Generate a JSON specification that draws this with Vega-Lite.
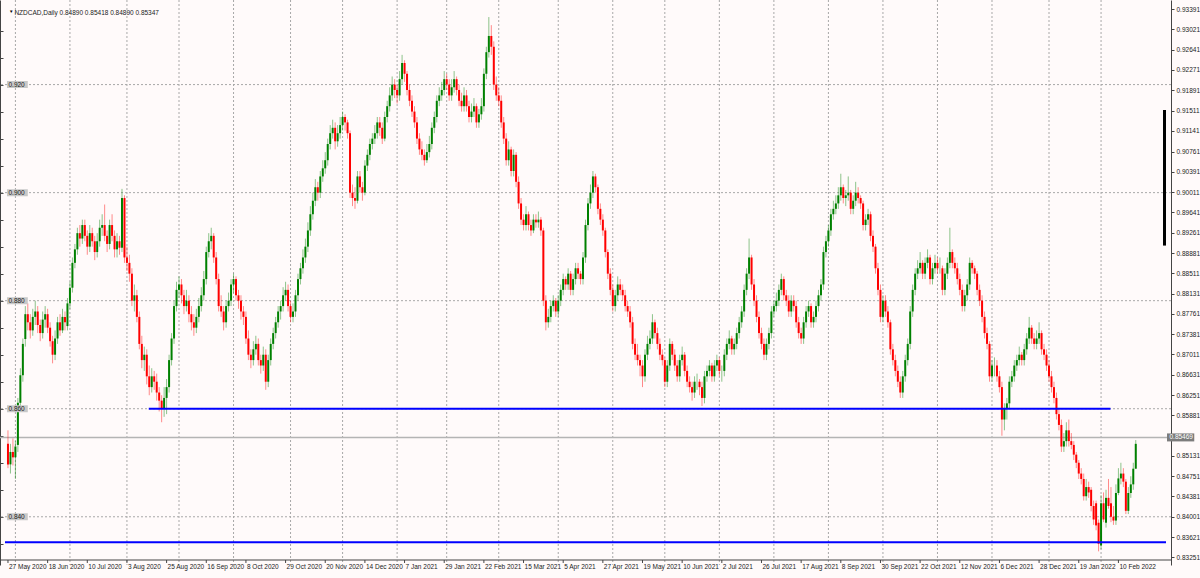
{
"$schema":"https://vega.github.io/schema/vega-lite/v6.json",
"width":1171,"height":565,"autosize":"none",
"padding":{"left":0,"top":0,"right":29,"bottom":13},
"background":"#fffafa",
"config":{"view":{"stroke":null},"axis":{"labelFont":"Liberation Sans","labelFontSize":6.5,"labelColor":"#1a1a1a","domainColor":"#555555","tickColor":"#555555","grid":false,"title":null},"text":{"font":"Liberation Sans"}},
"resolve":{"axis":{"y":"independent"}},
"datasets":{
"vgrid":[{"m":3},{"m":25},{"m":48},{"m":69},{"m":91},{"m":114},{"m":135},{"m":157},{"m":177},{"m":198},{"m":222},{"m":244},{"m":265},{"m":287},{"m":309},{"m":331},{"m":353},{"m":375},{"m":397},{"m":420},{"m":441}],
"dates":[{"i":0,"t":"27 May 2020"},{"i":16,"t":"18 Jun 2020"},{"i":32,"t":"10 Jul 2020"},{"i":48,"t":"3 Aug 2020"},{"i":64,"t":"25 Aug 2020"},{"i":80,"t":"16 Sep 2020"},{"i":96,"t":"8 Oct 2020"},{"i":112,"t":"29 Oct 2020"},{"i":128,"t":"20 Nov 2020"},{"i":144,"t":"14 Dec 2020"},{"i":160,"t":"7 Jan 2021"},{"i":176,"t":"29 Jan 2021"},{"i":192,"t":"22 Feb 2021"},{"i":208,"t":"15 Mar 2021"},{"i":224,"t":"5 Apr 2021"},{"i":240,"t":"27 Apr 2021"},{"i":256,"t":"19 May 2021"},{"i":272,"t":"10 Jun 2021"},{"i":288,"t":"2 Jul 2021"},{"i":304,"t":"26 Jul 2021"},{"i":320,"t":"17 Aug 2021"},{"i":336,"t":"8 Sep 2021"},{"i":352,"t":"30 Sep 2021"},{"i":368,"t":"22 Oct 2021"},{"i":384,"t":"12 Nov 2021"},{"i":400,"t":"6 Dec 2021"},{"i":416,"t":"28 Dec 2021"},{"i":432,"t":"19 Jan 2022"},{"i":448,"t":"10 Feb 2022"}],
"hgrid":[{"p":0.84,"t":"0.840"},{"p":0.86,"t":"0.860"},{"p":0.88,"t":"0.880"},{"p":0.9,"t":"0.900"},{"p":0.92,"t":"0.920"}],
"levels":[{"p":0.86,"a":56.8,"b":444.8},{"p":0.8353,"a":-1.2,"b":467.2}],
"candles":[
{"i":0,"o":0.8535,"h":0.8560,"l":0.8490,"c":0.8497},
{"i":1,"o":0.8497,"h":0.8535,"l":0.8480,"c":0.8520},
{"i":2,"o":0.8520,"h":0.8545,"l":0.8495,"c":0.8510},
{"i":3,"o":0.8510,"h":0.8540,"l":0.8470,"c":0.8530},
{"i":4,"o":0.8533,"h":0.8620,"l":0.8520,"c":0.8611},
{"i":5,"o":0.8611,"h":0.8675,"l":0.8600,"c":0.8662},
{"i":6,"o":0.8662,"h":0.8730,"l":0.8650,"c":0.8720},
{"i":7,"o":0.8729,"h":0.8790,"l":0.8715,"c":0.8775},
{"i":8,"o":0.8775,"h":0.8795,"l":0.8745,"c":0.8760},
{"i":9,"o":0.8760,"h":0.8775,"l":0.8730,"c":0.8745},
{"i":10,"o":0.8745,"h":0.8785,"l":0.8735,"c":0.8770},
{"i":11,"o":0.8770,"h":0.8800,"l":0.8755,"c":0.8780},
{"i":12,"o":0.8780,"h":0.8790,"l":0.8740,"c":0.8755},
{"i":13,"o":0.8755,"h":0.8765,"l":0.8725,"c":0.8740},
{"i":14,"o":0.8740,"h":0.8780,"l":0.8730,"c":0.8765},
{"i":15,"o":0.8765,"h":0.8790,"l":0.8750,"c":0.8775},
{"i":16,"o":0.8775,"h":0.8785,"l":0.8740,"c":0.8750},
{"i":17,"o":0.8750,"h":0.8760,"l":0.8715,"c":0.8725},
{"i":18,"o":0.8725,"h":0.8735,"l":0.8684,"c":0.8700},
{"i":19,"o":0.8700,"h":0.8745,"l":0.8690,"c":0.8730},
{"i":20,"o":0.8730,"h":0.8770,"l":0.8720,"c":0.8760},
{"i":21,"o":0.8760,"h":0.8775,"l":0.8735,"c":0.8745},
{"i":22,"o":0.8745,"h":0.8785,"l":0.8740,"c":0.8770},
{"i":23,"o":0.8770,"h":0.8780,"l":0.8745,"c":0.8760},
{"i":24,"o":0.8753,"h":0.8805,"l":0.8745,"c":0.8795},
{"i":25,"o":0.8795,"h":0.8835,"l":0.8785,"c":0.8824},
{"i":26,"o":0.8824,"h":0.8880,"l":0.8815,"c":0.8870},
{"i":27,"o":0.8870,"h":0.8905,"l":0.8860,"c":0.8895},
{"i":28,"o":0.8895,"h":0.8935,"l":0.8885,"c":0.8925},
{"i":29,"o":0.8925,"h":0.8940,"l":0.8900,"c":0.8915},
{"i":30,"o":0.8915,"h":0.8950,"l":0.8905,"c":0.8940},
{"i":31,"o":0.8940,"h":0.8950,"l":0.8910,"c":0.8920},
{"i":32,"o":0.8920,"h":0.8930,"l":0.8885,"c":0.8900},
{"i":33,"o":0.8900,"h":0.8940,"l":0.8890,"c":0.8925},
{"i":34,"o":0.8925,"h":0.8935,"l":0.8900,"c":0.8910},
{"i":35,"o":0.8910,"h":0.8920,"l":0.8875,"c":0.8890},
{"i":36,"o":0.8890,"h":0.8925,"l":0.8880,"c":0.8910},
{"i":37,"o":0.8910,"h":0.8950,"l":0.8900,"c":0.8935},
{"i":38,"o":0.8935,"h":0.8960,"l":0.8920,"c":0.8940},
{"i":39,"o":0.8940,"h":0.8978,"l":0.8910,"c":0.8920},
{"i":40,"o":0.8920,"h":0.8930,"l":0.8890,"c":0.8905},
{"i":41,"o":0.8905,"h":0.8950,"l":0.8895,"c":0.8940},
{"i":42,"o":0.8940,"h":0.8960,"l":0.8910,"c":0.8920},
{"i":43,"o":0.8920,"h":0.8930,"l":0.8880,"c":0.8895},
{"i":44,"o":0.8895,"h":0.8925,"l":0.8880,"c":0.8910},
{"i":45,"o":0.8910,"h":0.8920,"l":0.8885,"c":0.8898},
{"i":46,"o":0.8898,"h":0.9007,"l":0.8890,"c":0.8990},
{"i":47,"o":0.8990,"h":0.8995,"l":0.8870,"c":0.8880},
{"i":48,"o":0.8880,"h":0.8900,"l":0.8855,"c":0.8870},
{"i":49,"o":0.8870,"h":0.8885,"l":0.8835,"c":0.8850},
{"i":50,"o":0.8850,"h":0.8860,"l":0.8790,"c":0.8800},
{"i":51,"o":0.8800,"h":0.8830,"l":0.8780,"c":0.8810},
{"i":52,"o":0.8810,"h":0.8820,"l":0.8760,"c":0.8770},
{"i":53,"o":0.8770,"h":0.8780,"l":0.8710,"c":0.8720},
{"i":54,"o":0.8720,"h":0.8735,"l":0.8675,"c":0.8690},
{"i":55,"o":0.8690,"h":0.8715,"l":0.8670,"c":0.8700},
{"i":56,"o":0.8700,"h":0.8710,"l":0.8645,"c":0.8660},
{"i":57,"o":0.8660,"h":0.8680,"l":0.8625,"c":0.8640},
{"i":58,"o":0.8640,"h":0.8675,"l":0.8630,"c":0.8660},
{"i":59,"o":0.8660,"h":0.8670,"l":0.8635,"c":0.8650},
{"i":60,"o":0.8650,"h":0.8665,"l":0.8615,"c":0.8630},
{"i":61,"o":0.8630,"h":0.8640,"l":0.8595,"c":0.8615},
{"i":62,"o":0.8615,"h":0.8625,"l":0.8575,"c":0.8600},
{"i":63,"o":0.8600,"h":0.8640,"l":0.8585,"c":0.8620},
{"i":64,"o":0.8620,"h":0.8655,"l":0.8590,"c":0.8640},
{"i":65,"o":0.8640,"h":0.8700,"l":0.8630,"c":0.8690},
{"i":66,"o":0.8690,"h":0.8740,"l":0.8680,"c":0.8730},
{"i":67,"o":0.8730,"h":0.8800,"l":0.8720,"c":0.8790},
{"i":68,"o":0.8790,"h":0.8835,"l":0.8780,"c":0.8820},
{"i":69,"o":0.8820,"h":0.8845,"l":0.8805,"c":0.8830},
{"i":70,"o":0.8830,"h":0.8840,"l":0.8795,"c":0.8810},
{"i":71,"o":0.8810,"h":0.8820,"l":0.8775,"c":0.8790},
{"i":72,"o":0.8790,"h":0.8820,"l":0.8780,"c":0.8800},
{"i":73,"o":0.8800,"h":0.8810,"l":0.8760,"c":0.8775},
{"i":74,"o":0.8775,"h":0.8790,"l":0.8745,"c":0.8760},
{"i":75,"o":0.8760,"h":0.8775,"l":0.8735,"c":0.8750},
{"i":76,"o":0.8750,"h":0.8785,"l":0.8740,"c":0.8770},
{"i":77,"o":0.8770,"h":0.8805,"l":0.8760,"c":0.8790},
{"i":78,"o":0.8790,"h":0.8825,"l":0.8780,"c":0.8810},
{"i":79,"o":0.8810,"h":0.8855,"l":0.8800,"c":0.8840},
{"i":80,"o":0.8840,"h":0.8900,"l":0.8830,"c":0.8890},
{"i":81,"o":0.8890,"h":0.8925,"l":0.8880,"c":0.8910},
{"i":82,"o":0.8910,"h":0.8935,"l":0.8895,"c":0.8920},
{"i":83,"o":0.8920,"h":0.8925,"l":0.8870,"c":0.8880},
{"i":84,"o":0.8880,"h":0.8890,"l":0.8830,"c":0.8840},
{"i":85,"o":0.8840,"h":0.8850,"l":0.8780,"c":0.8790},
{"i":86,"o":0.8790,"h":0.8810,"l":0.8770,"c":0.8780},
{"i":87,"o":0.8780,"h":0.8790,"l":0.8745,"c":0.8760},
{"i":88,"o":0.8760,"h":0.8800,"l":0.8750,"c":0.8790},
{"i":89,"o":0.8790,"h":0.8815,"l":0.8780,"c":0.8800},
{"i":90,"o":0.8800,"h":0.8840,"l":0.8790,"c":0.8830},
{"i":91,"o":0.8830,"h":0.8850,"l":0.8815,"c":0.8840},
{"i":92,"o":0.8840,"h":0.8845,"l":0.8800,"c":0.8810},
{"i":93,"o":0.8810,"h":0.8820,"l":0.8785,"c":0.8800},
{"i":94,"o":0.8800,"h":0.8810,"l":0.8765,"c":0.8780},
{"i":95,"o":0.8780,"h":0.8790,"l":0.8755,"c":0.8770},
{"i":96,"o":0.8770,"h":0.8780,"l":0.8720,"c":0.8730},
{"i":97,"o":0.8730,"h":0.8745,"l":0.8690,"c":0.8700},
{"i":98,"o":0.8700,"h":0.8710,"l":0.8675,"c":0.8690},
{"i":99,"o":0.8690,"h":0.8725,"l":0.8680,"c":0.8710},
{"i":100,"o":0.8710,"h":0.8735,"l":0.8700,"c":0.8720},
{"i":101,"o":0.8720,"h":0.8730,"l":0.8680,"c":0.8690},
{"i":102,"o":0.8690,"h":0.8700,"l":0.8665,"c":0.8680},
{"i":103,"o":0.8680,"h":0.8715,"l":0.8670,"c":0.8700},
{"i":104,"o":0.8700,"h":0.8710,"l":0.8635,"c":0.8650},
{"i":105,"o":0.8650,"h":0.8700,"l":0.8640,"c":0.8690},
{"i":106,"o":0.8690,"h":0.8730,"l":0.8680,"c":0.8720},
{"i":107,"o":0.8720,"h":0.8750,"l":0.8710,"c":0.8740},
{"i":108,"o":0.8740,"h":0.8770,"l":0.8730,"c":0.8760},
{"i":109,"o":0.8760,"h":0.8790,"l":0.8750,"c":0.8780},
{"i":110,"o":0.8780,"h":0.8800,"l":0.8765,"c":0.8790},
{"i":111,"o":0.8790,"h":0.8825,"l":0.8780,"c":0.8810},
{"i":112,"o":0.8810,"h":0.8835,"l":0.8800,"c":0.8820},
{"i":113,"o":0.8820,"h":0.8830,"l":0.8780,"c":0.8790},
{"i":114,"o":0.8790,"h":0.8800,"l":0.8760,"c":0.8770},
{"i":115,"o":0.8770,"h":0.8795,"l":0.8760,"c":0.8780},
{"i":116,"o":0.8780,"h":0.8820,"l":0.8770,"c":0.8810},
{"i":117,"o":0.8810,"h":0.8850,"l":0.8800,"c":0.8840},
{"i":118,"o":0.8840,"h":0.8870,"l":0.8830,"c":0.8860},
{"i":119,"o":0.8860,"h":0.8895,"l":0.8850,"c":0.8880},
{"i":120,"o":0.8880,"h":0.8915,"l":0.8870,"c":0.8900},
{"i":121,"o":0.8900,"h":0.8945,"l":0.8890,"c":0.8930},
{"i":122,"o":0.8930,"h":0.8975,"l":0.8920,"c":0.8960},
{"i":123,"o":0.8960,"h":0.9000,"l":0.8950,"c":0.8985},
{"i":124,"o":0.8985,"h":0.9025,"l":0.8975,"c":0.9010},
{"i":125,"o":0.9010,"h":0.9020,"l":0.8985,"c":0.9000},
{"i":126,"o":0.9000,"h":0.9040,"l":0.8990,"c":0.9030},
{"i":127,"o":0.9030,"h":0.9060,"l":0.9020,"c":0.9045},
{"i":128,"o":0.9045,"h":0.9075,"l":0.9035,"c":0.9060},
{"i":129,"o":0.9060,"h":0.9100,"l":0.9050,"c":0.9090},
{"i":130,"o":0.9090,"h":0.9125,"l":0.9080,"c":0.9110},
{"i":131,"o":0.9110,"h":0.9135,"l":0.9100,"c":0.9120},
{"i":132,"o":0.9120,"h":0.9130,"l":0.9080,"c":0.9095},
{"i":133,"o":0.9095,"h":0.9125,"l":0.9085,"c":0.9110},
{"i":134,"o":0.9110,"h":0.9140,"l":0.9100,"c":0.9125},
{"i":135,"o":0.9125,"h":0.9150,"l":0.9115,"c":0.9140},
{"i":136,"o":0.9140,"h":0.9145,"l":0.9115,"c":0.9130},
{"i":137,"o":0.9130,"h":0.9135,"l":0.9100,"c":0.9110},
{"i":138,"o":0.9110,"h":0.9115,"l":0.8990,"c":0.9000},
{"i":139,"o":0.9000,"h":0.9015,"l":0.8975,"c":0.8990},
{"i":140,"o":0.8990,"h":0.9010,"l":0.8970,"c":0.8985},
{"i":141,"o":0.8985,"h":0.9040,"l":0.8980,"c":0.9030},
{"i":142,"o":0.9030,"h":0.9040,"l":0.9000,"c":0.9010},
{"i":143,"o":0.9010,"h":0.9020,"l":0.8985,"c":0.9000},
{"i":144,"o":0.9000,"h":0.9060,"l":0.8995,"c":0.9050},
{"i":145,"o":0.9050,"h":0.9080,"l":0.9040,"c":0.9070},
{"i":146,"o":0.9070,"h":0.9100,"l":0.9060,"c":0.9090},
{"i":147,"o":0.9090,"h":0.9110,"l":0.9080,"c":0.9100},
{"i":148,"o":0.9100,"h":0.9125,"l":0.9090,"c":0.9110},
{"i":149,"o":0.9110,"h":0.9140,"l":0.9100,"c":0.9130},
{"i":150,"o":0.9130,"h":0.9140,"l":0.9105,"c":0.9120},
{"i":151,"o":0.9120,"h":0.9130,"l":0.9090,"c":0.9100},
{"i":152,"o":0.9100,"h":0.9150,"l":0.9095,"c":0.9140},
{"i":153,"o":0.9140,"h":0.9170,"l":0.9130,"c":0.9160},
{"i":154,"o":0.9160,"h":0.9195,"l":0.9150,"c":0.9180},
{"i":155,"o":0.9180,"h":0.9215,"l":0.9170,"c":0.9200},
{"i":156,"o":0.9200,"h":0.9210,"l":0.9175,"c":0.9190},
{"i":157,"o":0.9190,"h":0.9200,"l":0.9165,"c":0.9180},
{"i":158,"o":0.9180,"h":0.9225,"l":0.9170,"c":0.9210},
{"i":159,"o":0.9210,"h":0.9255,"l":0.9200,"c":0.9240},
{"i":160,"o":0.9240,"h":0.9245,"l":0.9205,"c":0.9220},
{"i":161,"o":0.9220,"h":0.9225,"l":0.9180,"c":0.9190},
{"i":162,"o":0.9190,"h":0.9200,"l":0.9160,"c":0.9170},
{"i":163,"o":0.9170,"h":0.9180,"l":0.9140,"c":0.9150},
{"i":164,"o":0.9150,"h":0.9160,"l":0.9120,"c":0.9130},
{"i":165,"o":0.9130,"h":0.9140,"l":0.9090,"c":0.9100},
{"i":166,"o":0.9100,"h":0.9110,"l":0.9070,"c":0.9080},
{"i":167,"o":0.9080,"h":0.9095,"l":0.9060,"c":0.9070},
{"i":168,"o":0.9070,"h":0.9080,"l":0.9050,"c":0.9060},
{"i":169,"o":0.9060,"h":0.9090,"l":0.9055,"c":0.9075},
{"i":170,"o":0.9075,"h":0.9105,"l":0.9065,"c":0.9090},
{"i":171,"o":0.9090,"h":0.9130,"l":0.9080,"c":0.9120},
{"i":172,"o":0.9120,"h":0.9150,"l":0.9110,"c":0.9140},
{"i":173,"o":0.9140,"h":0.9180,"l":0.9130,"c":0.9170},
{"i":174,"o":0.9170,"h":0.9195,"l":0.9160,"c":0.9180},
{"i":175,"o":0.9180,"h":0.9205,"l":0.9170,"c":0.9190},
{"i":176,"o":0.9190,"h":0.9225,"l":0.9180,"c":0.9210},
{"i":177,"o":0.9210,"h":0.9220,"l":0.9190,"c":0.9200},
{"i":178,"o":0.9200,"h":0.9210,"l":0.9170,"c":0.9180},
{"i":179,"o":0.9180,"h":0.9210,"l":0.9170,"c":0.9195},
{"i":180,"o":0.9195,"h":0.9225,"l":0.9185,"c":0.9210},
{"i":181,"o":0.9210,"h":0.9215,"l":0.9180,"c":0.9190},
{"i":182,"o":0.9190,"h":0.9200,"l":0.9160,"c":0.9170},
{"i":183,"o":0.9170,"h":0.9185,"l":0.9150,"c":0.9160},
{"i":184,"o":0.9160,"h":0.9195,"l":0.9150,"c":0.9180},
{"i":185,"o":0.9180,"h":0.9190,"l":0.9150,"c":0.9160},
{"i":186,"o":0.9160,"h":0.9170,"l":0.9130,"c":0.9140},
{"i":187,"o":0.9140,"h":0.9165,"l":0.9130,"c":0.9150},
{"i":188,"o":0.9150,"h":0.9175,"l":0.9140,"c":0.9160},
{"i":189,"o":0.9160,"h":0.9165,"l":0.9120,"c":0.9130},
{"i":190,"o":0.9130,"h":0.9155,"l":0.9120,"c":0.9145},
{"i":191,"o":0.9145,"h":0.9175,"l":0.9135,"c":0.9160},
{"i":192,"o":0.9160,"h":0.9230,"l":0.9150,"c":0.9220},
{"i":193,"o":0.9220,"h":0.9270,"l":0.9210,"c":0.9260},
{"i":194,"o":0.9260,"h":0.9325,"l":0.9250,"c":0.9290},
{"i":195,"o":0.9290,"h":0.9310,"l":0.9255,"c":0.9270},
{"i":196,"o":0.9270,"h":0.9280,"l":0.9190,"c":0.9200},
{"i":197,"o":0.9200,"h":0.9215,"l":0.9170,"c":0.9180},
{"i":198,"o":0.9180,"h":0.9195,"l":0.9160,"c":0.9170},
{"i":199,"o":0.9170,"h":0.9180,"l":0.9120,"c":0.9130},
{"i":200,"o":0.9130,"h":0.9140,"l":0.9090,"c":0.9100},
{"i":201,"o":0.9100,"h":0.9110,"l":0.9050,"c":0.9060},
{"i":202,"o":0.9060,"h":0.9095,"l":0.9050,"c":0.9080},
{"i":203,"o":0.9080,"h":0.9085,"l":0.9030,"c":0.9040},
{"i":204,"o":0.9040,"h":0.9080,"l":0.9030,"c":0.9070},
{"i":205,"o":0.9070,"h":0.9075,"l":0.9010,"c":0.9020},
{"i":206,"o":0.9020,"h":0.9030,"l":0.8970,"c":0.8980},
{"i":207,"o":0.8980,"h":0.8990,"l":0.8940,"c":0.8950},
{"i":208,"o":0.8950,"h":0.8960,"l":0.8930,"c":0.8940},
{"i":209,"o":0.8940,"h":0.8975,"l":0.8930,"c":0.8960},
{"i":210,"o":0.8960,"h":0.8965,"l":0.8930,"c":0.8940},
{"i":211,"o":0.8940,"h":0.8950,"l":0.8920,"c":0.8930},
{"i":212,"o":0.8930,"h":0.8960,"l":0.8925,"c":0.8950},
{"i":213,"o":0.8950,"h":0.8960,"l":0.8935,"c":0.8945},
{"i":214,"o":0.8945,"h":0.8965,"l":0.8935,"c":0.8950},
{"i":215,"o":0.8950,"h":0.8955,"l":0.8920,"c":0.8930},
{"i":216,"o":0.8930,"h":0.8935,"l":0.8790,"c":0.8800},
{"i":217,"o":0.8800,"h":0.8810,"l":0.8745,"c":0.8760},
{"i":218,"o":0.8760,"h":0.8785,"l":0.8750,"c":0.8770},
{"i":219,"o":0.8770,"h":0.8800,"l":0.8760,"c":0.8790},
{"i":220,"o":0.8790,"h":0.8810,"l":0.8780,"c":0.8800},
{"i":221,"o":0.8800,"h":0.8805,"l":0.8770,"c":0.8780},
{"i":222,"o":0.8780,"h":0.8810,"l":0.8770,"c":0.8800},
{"i":223,"o":0.8800,"h":0.8830,"l":0.8790,"c":0.8820},
{"i":224,"o":0.8820,"h":0.8850,"l":0.8810,"c":0.8840},
{"i":225,"o":0.8840,"h":0.8845,"l":0.8820,"c":0.8830},
{"i":226,"o":0.8830,"h":0.8860,"l":0.8820,"c":0.8850},
{"i":227,"o":0.8850,"h":0.8855,"l":0.8810,"c":0.8820},
{"i":228,"o":0.8820,"h":0.8850,"l":0.8810,"c":0.8840},
{"i":229,"o":0.8840,"h":0.8870,"l":0.8830,"c":0.8860},
{"i":230,"o":0.8860,"h":0.8870,"l":0.8840,"c":0.8850},
{"i":231,"o":0.8850,"h":0.8855,"l":0.8830,"c":0.8840},
{"i":232,"o":0.8840,"h":0.8890,"l":0.8830,"c":0.8880},
{"i":233,"o":0.8880,"h":0.8950,"l":0.8870,"c":0.8940},
{"i":234,"o":0.8940,"h":0.8990,"l":0.8930,"c":0.8980},
{"i":235,"o":0.8980,"h":0.9015,"l":0.8970,"c":0.9000},
{"i":236,"o":0.9000,"h":0.9040,"l":0.8990,"c":0.9030},
{"i":237,"o":0.9030,"h":0.9035,"l":0.9000,"c":0.9010},
{"i":238,"o":0.9010,"h":0.9015,"l":0.8960,"c":0.8970},
{"i":239,"o":0.8970,"h":0.8980,"l":0.8940,"c":0.8950},
{"i":240,"o":0.8950,"h":0.8960,"l":0.8920,"c":0.8930},
{"i":241,"o":0.8930,"h":0.8935,"l":0.8880,"c":0.8890},
{"i":242,"o":0.8890,"h":0.8895,"l":0.8840,"c":0.8850},
{"i":243,"o":0.8850,"h":0.8860,"l":0.8810,"c":0.8820},
{"i":244,"o":0.8820,"h":0.8830,"l":0.8780,"c":0.8790},
{"i":245,"o":0.8790,"h":0.8820,"l":0.8780,"c":0.8810},
{"i":246,"o":0.8810,"h":0.8845,"l":0.8800,"c":0.8830},
{"i":247,"o":0.8830,"h":0.8840,"l":0.8810,"c":0.8820},
{"i":248,"o":0.8820,"h":0.8830,"l":0.8800,"c":0.8810},
{"i":249,"o":0.8810,"h":0.8820,"l":0.8780,"c":0.8790},
{"i":250,"o":0.8790,"h":0.8800,"l":0.8770,"c":0.8780},
{"i":251,"o":0.8780,"h":0.8790,"l":0.8750,"c":0.8760},
{"i":252,"o":0.8760,"h":0.8770,"l":0.8710,"c":0.8720},
{"i":253,"o":0.8720,"h":0.8730,"l":0.8690,"c":0.8700},
{"i":254,"o":0.8700,"h":0.8720,"l":0.8680,"c":0.8690},
{"i":255,"o":0.8690,"h":0.8700,"l":0.8660,"c":0.8680},
{"i":256,"o":0.8680,"h":0.8690,"l":0.8640,"c":0.8660},
{"i":257,"o":0.8660,"h":0.8710,"l":0.8650,"c":0.8700},
{"i":258,"o":0.8700,"h":0.8735,"l":0.8690,"c":0.8720},
{"i":259,"o":0.8720,"h":0.8745,"l":0.8710,"c":0.8730},
{"i":260,"o":0.8730,"h":0.8775,"l":0.8720,"c":0.8760},
{"i":261,"o":0.8760,"h":0.8765,"l":0.8730,"c":0.8740},
{"i":262,"o":0.8740,"h":0.8750,"l":0.8710,"c":0.8720},
{"i":263,"o":0.8720,"h":0.8730,"l":0.8690,"c":0.8700},
{"i":264,"o":0.8700,"h":0.8710,"l":0.8680,"c":0.8690},
{"i":265,"o":0.8690,"h":0.8695,"l":0.8640,"c":0.8650},
{"i":266,"o":0.8650,"h":0.8690,"l":0.8640,"c":0.8680},
{"i":267,"o":0.8680,"h":0.8730,"l":0.8670,"c":0.8720},
{"i":268,"o":0.8720,"h":0.8725,"l":0.8690,"c":0.8700},
{"i":269,"o":0.8700,"h":0.8710,"l":0.8670,"c":0.8680},
{"i":270,"o":0.8680,"h":0.8690,"l":0.8650,"c":0.8660},
{"i":271,"o":0.8660,"h":0.8700,"l":0.8650,"c":0.8690},
{"i":272,"o":0.8690,"h":0.8715,"l":0.8680,"c":0.8700},
{"i":273,"o":0.8700,"h":0.8705,"l":0.8660,"c":0.8670},
{"i":274,"o":0.8670,"h":0.8680,"l":0.8640,"c":0.8650},
{"i":275,"o":0.8650,"h":0.8660,"l":0.8630,"c":0.8640},
{"i":276,"o":0.8640,"h":0.8650,"l":0.8615,"c":0.8630},
{"i":277,"o":0.8630,"h":0.8660,"l":0.8620,"c":0.8650},
{"i":278,"o":0.8650,"h":0.8665,"l":0.8635,"c":0.8650},
{"i":279,"o":0.8650,"h":0.8655,"l":0.8625,"c":0.8640},
{"i":280,"o":0.8640,"h":0.8650,"l":0.8605,"c":0.8620},
{"i":281,"o":0.8620,"h":0.8670,"l":0.8610,"c":0.8660},
{"i":282,"o":0.8660,"h":0.8680,"l":0.8650,"c":0.8670},
{"i":283,"o":0.8670,"h":0.8690,"l":0.8660,"c":0.8680},
{"i":284,"o":0.8680,"h":0.8685,"l":0.8650,"c":0.8660},
{"i":285,"o":0.8660,"h":0.8690,"l":0.8650,"c":0.8680},
{"i":286,"o":0.8680,"h":0.8700,"l":0.8670,"c":0.8690},
{"i":287,"o":0.8690,"h":0.8695,"l":0.8660,"c":0.8670},
{"i":288,"o":0.8670,"h":0.8680,"l":0.8650,"c":0.8670},
{"i":289,"o":0.8670,"h":0.8710,"l":0.8660,"c":0.8700},
{"i":290,"o":0.8700,"h":0.8730,"l":0.8690,"c":0.8720},
{"i":291,"o":0.8720,"h":0.8745,"l":0.8710,"c":0.8730},
{"i":292,"o":0.8730,"h":0.8735,"l":0.8700,"c":0.8710},
{"i":293,"o":0.8710,"h":0.8730,"l":0.8700,"c":0.8720},
{"i":294,"o":0.8720,"h":0.8750,"l":0.8710,"c":0.8740},
{"i":295,"o":0.8740,"h":0.8770,"l":0.8730,"c":0.8760},
{"i":296,"o":0.8760,"h":0.8790,"l":0.8750,"c":0.8780},
{"i":297,"o":0.8780,"h":0.8830,"l":0.8770,"c":0.8820},
{"i":298,"o":0.8820,"h":0.8860,"l":0.8810,"c":0.8850},
{"i":299,"o":0.8850,"h":0.8915,"l":0.8840,"c":0.8880},
{"i":300,"o":0.8880,"h":0.8885,"l":0.8820,"c":0.8830},
{"i":301,"o":0.8830,"h":0.8840,"l":0.8790,"c":0.8800},
{"i":302,"o":0.8800,"h":0.8810,"l":0.8760,"c":0.8770},
{"i":303,"o":0.8770,"h":0.8780,"l":0.8730,"c":0.8740},
{"i":304,"o":0.8740,"h":0.8750,"l":0.8710,"c":0.8720},
{"i":305,"o":0.8720,"h":0.8730,"l":0.8690,"c":0.8700},
{"i":306,"o":0.8700,"h":0.8730,"l":0.8690,"c":0.8720},
{"i":307,"o":0.8720,"h":0.8750,"l":0.8710,"c":0.8740},
{"i":308,"o":0.8740,"h":0.8790,"l":0.8730,"c":0.8780},
{"i":309,"o":0.8780,"h":0.8800,"l":0.8770,"c":0.8790},
{"i":310,"o":0.8790,"h":0.8815,"l":0.8780,"c":0.8800},
{"i":311,"o":0.8800,"h":0.8830,"l":0.8790,"c":0.8820},
{"i":312,"o":0.8820,"h":0.8850,"l":0.8810,"c":0.8840},
{"i":313,"o":0.8840,"h":0.8845,"l":0.8800,"c":0.8810},
{"i":314,"o":0.8810,"h":0.8820,"l":0.8790,"c":0.8800},
{"i":315,"o":0.8800,"h":0.8810,"l":0.8770,"c":0.8780},
{"i":316,"o":0.8780,"h":0.8810,"l":0.8770,"c":0.8800},
{"i":317,"o":0.8800,"h":0.8810,"l":0.8780,"c":0.8790},
{"i":318,"o":0.8790,"h":0.8800,"l":0.8750,"c":0.8760},
{"i":319,"o":0.8760,"h":0.8770,"l":0.8730,"c":0.8740},
{"i":320,"o":0.8740,"h":0.8750,"l":0.8720,"c":0.8730},
{"i":321,"o":0.8730,"h":0.8770,"l":0.8720,"c":0.8760},
{"i":322,"o":0.8760,"h":0.8790,"l":0.8750,"c":0.8780},
{"i":323,"o":0.8780,"h":0.8800,"l":0.8770,"c":0.8790},
{"i":324,"o":0.8790,"h":0.8795,"l":0.8750,"c":0.8760},
{"i":325,"o":0.8760,"h":0.8780,"l":0.8750,"c":0.8770},
{"i":326,"o":0.8770,"h":0.8800,"l":0.8760,"c":0.8790},
{"i":327,"o":0.8790,"h":0.8820,"l":0.8780,"c":0.8810},
{"i":328,"o":0.8810,"h":0.8840,"l":0.8800,"c":0.8830},
{"i":329,"o":0.8830,"h":0.8900,"l":0.8820,"c":0.8890},
{"i":330,"o":0.8890,"h":0.8920,"l":0.8880,"c":0.8910},
{"i":331,"o":0.8910,"h":0.8940,"l":0.8900,"c":0.8930},
{"i":332,"o":0.8930,"h":0.8970,"l":0.8920,"c":0.8960},
{"i":333,"o":0.8960,"h":0.8985,"l":0.8950,"c":0.8970},
{"i":334,"o":0.8970,"h":0.8995,"l":0.8960,"c":0.8980},
{"i":335,"o":0.8980,"h":0.9010,"l":0.8970,"c":0.8995},
{"i":336,"o":0.8995,"h":0.9035,"l":0.8985,"c":0.9010},
{"i":337,"o":0.9010,"h":0.9015,"l":0.8980,"c":0.8990},
{"i":338,"o":0.8990,"h":0.9005,"l":0.8975,"c":0.8995},
{"i":339,"o":0.8995,"h":0.9030,"l":0.8985,"c":0.9000},
{"i":340,"o":0.9000,"h":0.9005,"l":0.8960,"c":0.8970},
{"i":341,"o":0.8970,"h":0.8995,"l":0.8960,"c":0.8985},
{"i":342,"o":0.8985,"h":0.9020,"l":0.8975,"c":0.9000},
{"i":343,"o":0.9000,"h":0.9010,"l":0.8980,"c":0.8990},
{"i":344,"o":0.8990,"h":0.8995,"l":0.8970,"c":0.8980},
{"i":345,"o":0.8980,"h":0.8985,"l":0.8930,"c":0.8940},
{"i":346,"o":0.8940,"h":0.8960,"l":0.8930,"c":0.8950},
{"i":347,"o":0.8950,"h":0.8970,"l":0.8940,"c":0.8960},
{"i":348,"o":0.8960,"h":0.8965,"l":0.8910,"c":0.8920},
{"i":349,"o":0.8920,"h":0.8930,"l":0.8890,"c":0.8900},
{"i":350,"o":0.8900,"h":0.8905,"l":0.8850,"c":0.8860},
{"i":351,"o":0.8860,"h":0.8870,"l":0.8810,"c":0.8820},
{"i":352,"o":0.8820,"h":0.8830,"l":0.8760,"c":0.8770},
{"i":353,"o":0.8770,"h":0.8810,"l":0.8760,"c":0.8800},
{"i":354,"o":0.8800,"h":0.8810,"l":0.8770,"c":0.8780},
{"i":355,"o":0.8780,"h":0.8790,"l":0.8750,"c":0.8760},
{"i":356,"o":0.8760,"h":0.8765,"l":0.8700,"c":0.8710},
{"i":357,"o":0.8710,"h":0.8720,"l":0.8680,"c":0.8690},
{"i":358,"o":0.8690,"h":0.8700,"l":0.8660,"c":0.8670},
{"i":359,"o":0.8670,"h":0.8680,"l":0.8640,"c":0.8650},
{"i":360,"o":0.8650,"h":0.8660,"l":0.8620,"c":0.8630},
{"i":361,"o":0.8630,"h":0.8670,"l":0.8620,"c":0.8660},
{"i":362,"o":0.8660,"h":0.8700,"l":0.8650,"c":0.8690},
{"i":363,"o":0.8690,"h":0.8730,"l":0.8680,"c":0.8720},
{"i":364,"o":0.8720,"h":0.8790,"l":0.8710,"c":0.8780},
{"i":365,"o":0.8780,"h":0.8830,"l":0.8770,"c":0.8820},
{"i":366,"o":0.8820,"h":0.8860,"l":0.8810,"c":0.8850},
{"i":367,"o":0.8850,"h":0.8875,"l":0.8840,"c":0.8860},
{"i":368,"o":0.8860,"h":0.8890,"l":0.8850,"c":0.8870},
{"i":369,"o":0.8870,"h":0.8875,"l":0.8840,"c":0.8850},
{"i":370,"o":0.8850,"h":0.8880,"l":0.8840,"c":0.8870},
{"i":371,"o":0.8870,"h":0.8895,"l":0.8860,"c":0.8880},
{"i":372,"o":0.8880,"h":0.8885,"l":0.8830,"c":0.8840},
{"i":373,"o":0.8840,"h":0.8870,"l":0.8830,"c":0.8860},
{"i":374,"o":0.8860,"h":0.8885,"l":0.8850,"c":0.8870},
{"i":375,"o":0.8870,"h":0.8880,"l":0.8850,"c":0.8860},
{"i":376,"o":0.8860,"h":0.8880,"l":0.8850,"c":0.8860},
{"i":377,"o":0.8860,"h":0.8865,"l":0.8810,"c":0.8820},
{"i":378,"o":0.8820,"h":0.8860,"l":0.8810,"c":0.8850},
{"i":379,"o":0.8850,"h":0.8880,"l":0.8840,"c":0.8870},
{"i":380,"o":0.8870,"h":0.8935,"l":0.8860,"c":0.8890},
{"i":381,"o":0.8890,"h":0.8895,"l":0.8860,"c":0.8870},
{"i":382,"o":0.8870,"h":0.8880,"l":0.8850,"c":0.8860},
{"i":383,"o":0.8860,"h":0.8870,"l":0.8830,"c":0.8840},
{"i":384,"o":0.8840,"h":0.8850,"l":0.8810,"c":0.8820},
{"i":385,"o":0.8820,"h":0.8830,"l":0.8780,"c":0.8790},
{"i":386,"o":0.8790,"h":0.8820,"l":0.8780,"c":0.8810},
{"i":387,"o":0.8810,"h":0.8840,"l":0.8800,"c":0.8830},
{"i":388,"o":0.8830,"h":0.8880,"l":0.8820,"c":0.8870},
{"i":389,"o":0.8870,"h":0.8875,"l":0.8850,"c":0.8860},
{"i":390,"o":0.8860,"h":0.8865,"l":0.8840,"c":0.8850},
{"i":391,"o":0.8850,"h":0.8855,"l":0.8810,"c":0.8820},
{"i":392,"o":0.8820,"h":0.8830,"l":0.8790,"c":0.8800},
{"i":393,"o":0.8800,"h":0.8810,"l":0.8760,"c":0.8770},
{"i":394,"o":0.8770,"h":0.8780,"l":0.8730,"c":0.8740},
{"i":395,"o":0.8740,"h":0.8750,"l":0.8710,"c":0.8720},
{"i":396,"o":0.8720,"h":0.8725,"l":0.8650,"c":0.8660},
{"i":397,"o":0.8660,"h":0.8690,"l":0.8650,"c":0.8680},
{"i":398,"o":0.8680,"h":0.8695,"l":0.8660,"c":0.8680},
{"i":399,"o":0.8680,"h":0.8690,"l":0.8650,"c":0.8660},
{"i":400,"o":0.8660,"h":0.8670,"l":0.8630,"c":0.8640},
{"i":401,"o":0.8640,"h":0.8650,"l":0.8550,"c":0.8580},
{"i":402,"o":0.8580,"h":0.8610,"l":0.8560,"c":0.8600},
{"i":403,"o":0.8600,"h":0.8620,"l":0.8580,"c":0.8610},
{"i":404,"o":0.8610,"h":0.8660,"l":0.8600,"c":0.8650},
{"i":405,"o":0.8650,"h":0.8670,"l":0.8640,"c":0.8660},
{"i":406,"o":0.8660,"h":0.8690,"l":0.8650,"c":0.8680},
{"i":407,"o":0.8680,"h":0.8700,"l":0.8670,"c":0.8690},
{"i":408,"o":0.8690,"h":0.8715,"l":0.8680,"c":0.8700},
{"i":409,"o":0.8700,"h":0.8705,"l":0.8680,"c":0.8690},
{"i":410,"o":0.8690,"h":0.8720,"l":0.8680,"c":0.8710},
{"i":411,"o":0.8710,"h":0.8740,"l":0.8700,"c":0.8730},
{"i":412,"o":0.8730,"h":0.8770,"l":0.8720,"c":0.8750},
{"i":413,"o":0.8750,"h":0.8755,"l":0.8720,"c":0.8730},
{"i":414,"o":0.8730,"h":0.8740,"l":0.8710,"c":0.8720},
{"i":415,"o":0.8720,"h":0.8745,"l":0.8710,"c":0.8730},
{"i":416,"o":0.8730,"h":0.8760,"l":0.8720,"c":0.8740},
{"i":417,"o":0.8740,"h":0.8745,"l":0.8700,"c":0.8710},
{"i":418,"o":0.8710,"h":0.8720,"l":0.8690,"c":0.8700},
{"i":419,"o":0.8700,"h":0.8710,"l":0.8670,"c":0.8680},
{"i":420,"o":0.8680,"h":0.8690,"l":0.8650,"c":0.8660},
{"i":421,"o":0.8660,"h":0.8670,"l":0.8630,"c":0.8640},
{"i":422,"o":0.8640,"h":0.8650,"l":0.8610,"c":0.8620},
{"i":423,"o":0.8620,"h":0.8630,"l":0.8580,"c":0.8590},
{"i":424,"o":0.8590,"h":0.8600,"l":0.8560,"c":0.8570},
{"i":425,"o":0.8570,"h":0.8580,"l":0.8520,"c":0.8530},
{"i":426,"o":0.8530,"h":0.8555,"l":0.8520,"c":0.8540},
{"i":427,"o":0.8540,"h":0.8575,"l":0.8530,"c":0.8560},
{"i":428,"o":0.8560,"h":0.8580,"l":0.8530,"c":0.8540},
{"i":429,"o":0.8540,"h":0.8555,"l":0.8525,"c":0.8533},
{"i":430,"o":0.8533,"h":0.8540,"l":0.8505,"c":0.8515},
{"i":431,"o":0.8515,"h":0.8520,"l":0.8490,"c":0.8500},
{"i":432,"o":0.8500,"h":0.8505,"l":0.8470,"c":0.8480},
{"i":433,"o":0.8480,"h":0.8490,"l":0.8460,"c":0.8470},
{"i":434,"o":0.8470,"h":0.8480,"l":0.8430,"c":0.8438},
{"i":435,"o":0.8438,"h":0.8470,"l":0.8430,"c":0.8455},
{"i":436,"o":0.8455,"h":0.8465,"l":0.8435,"c":0.8445},
{"i":437,"o":0.8450,"h":0.8455,"l":0.8410,"c":0.8420},
{"i":438,"o":0.8420,"h":0.8430,"l":0.8385,"c":0.8395},
{"i":439,"o":0.8425,"h":0.8430,"l":0.8375,"c":0.8384},
{"i":440,"o":0.8389,"h":0.8395,"l":0.8336,"c":0.8350},
{"i":441,"o":0.8347,"h":0.8440,"l":0.8340,"c":0.8425},
{"i":442,"o":0.8425,"h":0.8445,"l":0.8390,"c":0.8395},
{"i":443,"o":0.8389,"h":0.8450,"l":0.8380,"c":0.8435},
{"i":444,"o":0.8435,"h":0.8470,"l":0.8415,"c":0.8420},
{"i":445,"o":0.8425,"h":0.8455,"l":0.8390,"c":0.8400},
{"i":446,"o":0.8400,"h":0.8420,"l":0.8385,"c":0.8393},
{"i":447,"o":0.8393,"h":0.8460,"l":0.8385,"c":0.8444},
{"i":448,"o":0.8444,"h":0.8490,"l":0.8440,"c":0.8471},
{"i":449,"o":0.8471,"h":0.8500,"l":0.8460,"c":0.8480},
{"i":450,"o":0.8480,"h":0.8490,"l":0.8455,"c":0.8465},
{"i":451,"o":0.8465,"h":0.8470,"l":0.8405,"c":0.8411},
{"i":452,"o":0.8411,"h":0.8455,"l":0.8405,"c":0.8444},
{"i":453,"o":0.8444,"h":0.8475,"l":0.8435,"c":0.8460},
{"i":454,"o":0.8460,"h":0.8500,"l":0.8450,"c":0.8489},
{"i":455,"o":0.8489,"h":0.8542,"l":0.8489,"c":0.8535}
]},
"layer":[
{"data":{"name":"vgrid"},"mark":{"type":"rule","color":"#a8a8a8","strokeDash":[2,2],"strokeWidth":1},
 "encoding":{"x":{"field":"m","type":"quantitative","scale":{"domain":[-1.2,467.2],"nice":false,"zero":false},"axis":null}}},
{"data":{"name":"hgrid"},"mark":{"type":"rule","color":"#a8a8a8","strokeDash":[2,2],"strokeWidth":1},
 "encoding":{"y":{"field":"p","type":"quantitative","scale":{"domain":[0.832,0.93473],"nice":false,"zero":false},
  "axis":{"orient":"left","values":[0.835,0.84,0.845,0.85,0.855,0.86,0.865,0.87,0.875,0.88,0.885,0.89,0.895,0.9,0.905,0.91,0.915,0.92,0.925,0.93],"labels":false,"tickSize":-3,"title":null,"domainColor":"#444444","tickColor":"#444444"}}}},
{"data":{"values":[{"p":0.85469}]},"mark":{"type":"rule","color":"#b4b4b4","strokeWidth":1.5},
 "encoding":{"y":{"field":"p","type":"quantitative","scale":{"domain":[0.832,0.93473],"nice":false,"zero":false},"axis":null}}},
{"data":{"name":"candles"},"mark":{"type":"rule","strokeWidth":1,"opacity":0.45},
 "encoding":{"x":{"field":"i","type":"quantitative","scale":{"domain":[-1.2,467.2],"nice":false,"zero":false},"axis":null},
  "y":{"field":"l","type":"quantitative","scale":{"domain":[0.832,0.93473],"nice":false,"zero":false},"axis":null},
  "y2":{"field":"h"},
  "color":{"condition":{"test":"datum.c >= datum.o","value":"#008000"},"value":"#ff0000"}}},
{"data":{"name":"candles"},"mark":{"type":"bar","size":2},
 "encoding":{"x":{"field":"i","type":"quantitative","scale":{"domain":[-1.2,467.2],"nice":false,"zero":false},"axis":null},
  "y":{"field":"o","type":"quantitative","scale":{"domain":[0.832,0.93473],"nice":false,"zero":false},
   "axis":{"orient":"right","values":[0.93391,0.93021,0.92641,0.92271,0.91891,0.91511,0.91141,0.90761,0.90391,0.90011,0.89641,0.89261,0.88881,0.88511,0.88131,0.87761,0.87381,0.87011,0.86631,0.86251,0.85881,0.85131,0.84751,0.84381,0.84001,0.83621,0.83251],
   "format":".5f","tickSize":3,"labelPadding":2,"labelOverlap":false,"labelBound":false,"labelBaseline":"middle","title":null,"domainColor":"#444444","tickColor":"#444444"}},
  "y2":{"field":"c"},
  "color":{"condition":{"test":"datum.c >= datum.o","value":"#008000"},"value":"#ff0000"}}},
{"data":{"name":"levels"},"mark":{"type":"rule","color":"#0000ff","strokeWidth":2},
 "encoding":{"x":{"field":"a","type":"quantitative","scale":{"domain":[-1.2,467.2],"nice":false,"zero":false},"axis":null},"x2":{"field":"b"},
  "y":{"field":"p","type":"quantitative","scale":{"domain":[0.832,0.93473],"nice":false,"zero":false},"axis":null}}},
{"data":{"values":[{"p":0.832}]},"mark":{"type":"rule","color":"#444444","strokeWidth":1},
 "encoding":{"y":{"field":"p","type":"quantitative","scale":{"domain":[0.832,0.93473],"nice":false,"zero":false},"axis":null}}},
{"data":{"name":"dates"},"mark":{"type":"rule","color":"#444444","strokeWidth":1},
 "encoding":{"x":{"field":"i","type":"quantitative","scale":{"domain":[-1.2,467.2],"nice":false,"zero":false},"axis":null},
  "y":{"datum":0.832,"type":"quantitative","scale":{"domain":[0.832,0.93473],"nice":false,"zero":false},"axis":null},"y2":{"datum":0.83145}}},
{"data":{"name":"dates"},"mark":{"type":"text","align":"left","baseline":"middle","dx":1,"fontSize":6.5,"color":"#1a1a1a"},
 "encoding":{"x":{"field":"i","type":"quantitative","scale":{"domain":[-1.2,467.2],"nice":false,"zero":false},"axis":null},
  "y":{"datum":0.8307,"type":"quantitative","scale":{"domain":[0.832,0.93473],"nice":false,"zero":false},"axis":null},
  "text":{"field":"t"}}},
{"data":{"name":"hgrid"},"mark":{"type":"bar","orient":"horizontal","size":7,"color":"#c8c8c8"},
 "encoding":{"x":{"datum":-0.4,"type":"quantitative","scale":{"domain":[-1.2,467.2],"nice":false,"zero":false},"axis":null},"x2":{"datum":8},
  "y":{"field":"p","type":"quantitative","scale":{"domain":[0.832,0.93473],"nice":false,"zero":false},"axis":null}}},
{"data":{"name":"hgrid"},"mark":{"type":"text","align":"left","baseline":"middle","fontSize":6.5,"color":"#1a1a1a"},
 "encoding":{"x":{"datum":0.2,"type":"quantitative","scale":{"domain":[-1.2,467.2],"nice":false,"zero":false},"axis":null},
  "y":{"field":"p","type":"quantitative","scale":{"domain":[0.832,0.93473],"nice":false,"zero":false},"axis":null},
  "text":{"field":"t"}}},
{"data":{"values":[{"t":"NZDCAD,Daily  0.84890 0.85418 0.84890 0.85347","p":0.9333}]},"mark":{"type":"text","align":"left","baseline":"middle","fontSize":6.5,"color":"#1a1a1a"},
 "encoding":{"x":{"datum":2.6,"type":"quantitative","scale":{"domain":[-1.2,467.2],"nice":false,"zero":false},"axis":null},
  "y":{"field":"p","type":"quantitative","scale":{"domain":[0.832,0.93473],"nice":false,"zero":false},"axis":null},
  "text":{"field":"t"}}},
{"data":{"values":[{"t":"▼","p":0.9334}]},"mark":{"type":"text","align":"left","baseline":"middle","fontSize":4.5,"color":"#000000"},
 "encoding":{"x":{"datum":0.4,"type":"quantitative","scale":{"domain":[-1.2,467.2],"nice":false,"zero":false},"axis":null},
  "y":{"field":"p","type":"quantitative","scale":{"domain":[0.832,0.93473],"nice":false,"zero":false},"axis":null},
  "text":{"field":"t"}}},
{"data":{"values":[{"p":0.85469}]},"mark":{"type":"bar","orient":"horizontal","size":8,"color":"#7c7c7c"},
 "encoding":{"x":{"datum":467.6,"type":"quantitative","scale":{"domain":[-1.2,467.2],"nice":false,"zero":false},"axis":null},"x2":{"datum":478.6},
  "y":{"field":"p","type":"quantitative","scale":{"domain":[0.832,0.93473],"nice":false,"zero":false},"axis":null}}},
{"data":{"values":[{"p":0.85469,"t":"0.85469"}]},"mark":{"type":"text","align":"left","baseline":"middle","fontSize":6.5,"color":"#ffffff"},
 "encoding":{"x":{"datum":468.6,"type":"quantitative","scale":{"domain":[-1.2,467.2],"nice":false,"zero":false},"axis":null},
  "y":{"field":"p","type":"quantitative","scale":{"domain":[0.832,0.93473],"nice":false,"zero":false},"axis":null},
  "text":{"field":"t"}}},
{"data":{"values":[{"a":0.9153,"b":0.8902}]},"mark":{"type":"rule","color":"#000000","strokeWidth":3},
 "encoding":{"x":{"datum":466.6,"type":"quantitative","scale":{"domain":[-1.2,467.2],"nice":false,"zero":false},"axis":null},
  "y":{"field":"a","type":"quantitative","scale":{"domain":[0.832,0.93473],"nice":false,"zero":false},"axis":null},"y2":{"field":"b"}}}
]
}
